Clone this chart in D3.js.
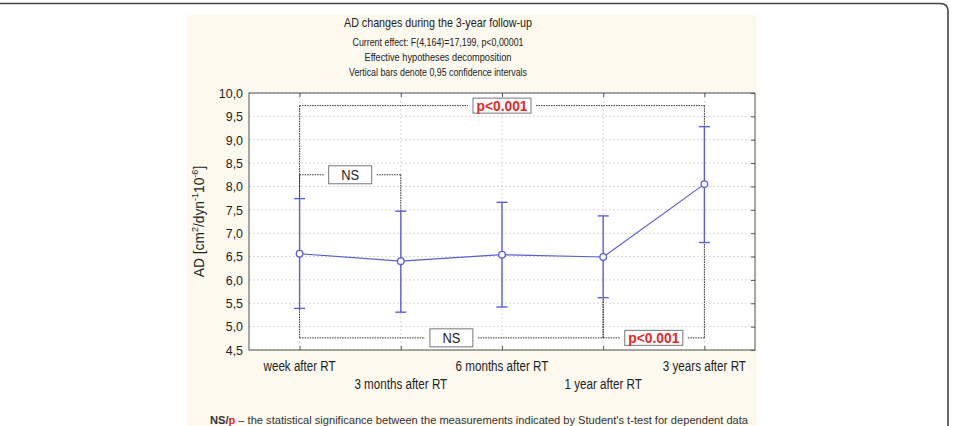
<!DOCTYPE html>
<html>
<head>
<meta charset="utf-8">
<script src="https://cdn.jsdelivr.net/npm/d3@7"></script>
<style>
  body { margin: 0; background: #fff; }
  text { font-family: "Liberation Sans", Arial, sans-serif; }
</style>
</head>
<body>
<svg id="chart" width="953" height="426"></svg>
<script>
// данные
const categories = ["week after RT", "3 months after RT", "6 months after RT", "1 year after RT", "3 years after RT"];
const means = [6.56, 6.40, 6.54, 6.49, 8.05];
const lower = [5.39, 5.31, 5.42, 5.62, 6.80];
const upper = [7.74, 7.47, 7.66, 7.37, 9.28];
const yTicks = [4.5, 5.0, 5.5, 6.0, 6.5, 7.0, 7.5, 8.0, 8.5, 9.0, 9.5, 10.0];

// скобки значимости: от, до, уровень, подпись
const bracketFrom = [0, 0, 0, 3];
const bracketTo = [4, 1, 3, 4];
const bracketLevel = [9.73, 8.25, 4.76, 4.76];
const bracketLabel = ["p<0.001", "NS", "NS", "p<0.001"];

const titleLines = [
    "AD changes during the 3-year follow-up",
    "Current effect: F(4,164)=17,199, p<0,00001",
    "Effective hypotheses decomposition",
    "Vertical bars denote 0,95 confidence intervals"
];

const svg = d3.select('#chart');
const blue = '#5c5cdc';

// рамка страницы
svg.append('path')
    .attr('d', 'M0,3.5 H940 Q948,3.5 948,11 V426')
    .attr('fill', 'none')
    .attr('stroke', '#444')
    .attr('stroke-width', 1.6);

// бежевый фон окна графика
svg.append('rect')
    .attr('x', 187).attr('y', 15)
    .attr('width', 570).attr('height', 411)
    .attr('fill', '#fdf9ee');

const margin = { left: 249, right: 755, top: 93, bottom: 350 };

const x = d3.scalePoint()
    .domain(categories)
    .range([margin.left, margin.right])
    .padding(0.5);

const y = d3.scaleLinear()
    .domain([4.5, 10])
    .range([margin.bottom, margin.top]);

// сжатие текста под узкий шрифт
function squeeze(sel, f) {
    sel.each(function () {
        const w = this.getComputedTextLength();
        d3.select(this).attr('textLength', w * f).attr('lengthAdjust', 'spacingAndGlyphs');
    });
}

// заголовки
const titleY = [27, 46, 61, 76];
const titleSize = [13.5, 11, 11, 11];
const titleWidth = [188, 171, 147, 178];
titleLines.forEach((t, i) => {
    svg.append('text')
        .attr('x', 438).attr('y', titleY[i])
        .attr('text-anchor', 'middle')
        .attr('font-size', titleSize[i])
        .attr('fill', '#222')
        .attr('textLength', titleWidth[i])
        .attr('lengthAdjust', 'spacingAndGlyphs')
        .text(t);
});

// белая область графика
svg.append('rect')
    .attr('x', margin.left).attr('y', margin.top)
    .attr('width', margin.right - margin.left)
    .attr('height', margin.bottom - margin.top)
    .attr('fill', '#fff');

// сетка
svg.append('g')
    .selectAll('line')
    .data(yTicks)
    .enter().append('line')
    .attr('x1', margin.left).attr('x2', margin.right)
    .attr('y1', d => y(d)).attr('y2', d => y(d))
    .attr('stroke', '#d8d8d8')
    .attr('stroke-dasharray', '2,2');

svg.append('g')
    .selectAll('line')
    .data(categories)
    .enter().append('line')
    .attr('x1', d => x(d)).attr('x2', d => x(d))
    .attr('y1', margin.top).attr('y2', margin.bottom)
    .attr('stroke', '#d8d8d8')
    .attr('stroke-dasharray', '2,2');

// оси
const yAxis = svg.append('g')
    .attr('transform', `translate(${margin.left},0)`)
    .call(d3.axisLeft(y).tickValues(yTicks).tickSize(0).tickPadding(6)
        .tickFormat(d => d3.format('.1f')(d).replace('.', ',')));
yAxis.select('.domain').remove();
yAxis.selectAll('text').attr('font-size', 13.5).attr('fill', '#222')
    .call(squeeze, 0.92);

svg.append('g')
    .attr('transform', `translate(${margin.right},0)`)
    .call(d3.axisLeft(y).tickValues(yTicks).tickSize(4).tickFormat(''))
    .call(g => g.select('.domain').remove())
    .selectAll('line').attr('stroke', '#555');

svg.append('g')
    .attr('transform', `translate(0,${margin.top})`)
    .call(d3.axisBottom(x).tickSize(4).tickFormat(''))
    .call(g => g.select('.domain').remove())
    .selectAll('line').attr('stroke', '#555');

svg.append('g')
    .attr('transform', `translate(0,${margin.bottom})`)
    .call(d3.axisTop(x).tickSize(4).tickFormat(''))
    .call(g => g.select('.domain').remove())
    .selectAll('line').attr('stroke', '#555');

svg.append('rect')
    .attr('x', margin.left).attr('y', margin.top)
    .attr('width', margin.right - margin.left)
    .attr('height', margin.bottom - margin.top)
    .attr('fill', 'none')
    .attr('stroke', '#555');

// подписи категорий в два ряда
svg.append('g')
    .selectAll('text')
    .data(categories)
    .enter().append('text')
    .attr('x', d => x(d))
    .attr('y', (d, i) => i % 2 === 0 ? 371 : 389)
    .attr('text-anchor', 'middle')
    .attr('font-size', 14)
    .attr('fill', '#222')
    .text(d => d)
    .call(squeeze, 0.83);

// подпись оси Y
const yl = svg.append('text')
    .attr('transform', `translate(204,${(margin.top + margin.bottom) / 2}) rotate(-90)`)
    .attr('text-anchor', 'middle')
    .attr('font-size', 14.5)
    .attr('fill', '#222');
yl.append('tspan').text('AD [cm');
yl.append('tspan').attr('font-size', 9.5).attr('dy', -6).text('2');
yl.append('tspan').attr('dy', 6).text('/dyn');
yl.append('tspan').attr('font-size', 9.5).attr('dy', -6).text('-1');
yl.append('tspan').attr('dy', 6).text('10');
yl.append('tspan').attr('font-size', 9.5).attr('dy', -6).text('-6');
yl.append('tspan').attr('dy', 6).text(']');
yl.call(squeeze, 0.95);

// скобки значимости
const brackets = svg.append('g');
bracketLabel.forEach((lab, i) => {
    const a = bracketFrom[i], b = bracketTo[i];
    const xa = x(categories[a]), xb = x(categories[b]);
    const ly = y(bracketLevel[i]);
    const top = bracketLevel[i] > means[a];
    const isP = lab !== 'NS';
    const mid = (xa + xb) / 2;
    const bw = isP ? 58 : 43;
    const bh = isP ? 15 : 18;

    const seg = (x1, y1, x2, y2) => brackets.append('line')
        .attr('x1', x1).attr('y1', y1).attr('x2', x2).attr('y2', y2)
        .attr('stroke', '#333')
        .attr('stroke-dasharray', '1.5,1');

    seg(xa, ly, mid - bw / 2 - 5, ly);
    seg(mid + bw / 2 + 5, ly, xb, ly);
    [a, b].forEach(k => {
        const xk = x(categories[k]);
        const end = top ? y(upper[k]) : y(lower[k]);
        seg(xk, ly, xk, end);
    });

    brackets.append('rect')
        .attr('x', mid - bw / 2).attr('y', ly - bh / 2)
        .attr('width', bw).attr('height', bh)
        .attr('fill', '#fff')
        .attr('stroke', '#777');
    brackets.append('text')
        .attr('x', mid).attr('y', ly + (isP ? 5.5 : 5))
        .attr('text-anchor', 'middle')
        .attr('font-size', isP ? 15 : 14)
        .attr('font-weight', isP ? 'bold' : 'normal')
        .attr('fill', isP ? '#e8261f' : '#222')
        .text(lab)
        .call(squeeze, 0.92);
});

// доверительные интервалы
const bars = svg.append('g')
    .attr('stroke', blue)
    .attr('stroke-width', 1.4);
categories.forEach((c, i) => {
    bars.append('line')
        .attr('x1', x(c)).attr('x2', x(c))
        .attr('y1', y(lower[i])).attr('y2', y(upper[i]));
    [lower[i], upper[i]].forEach(v => {
        bars.append('line')
            .attr('x1', x(c) - 5.5).attr('x2', x(c) + 5.5)
            .attr('y1', y(v)).attr('y2', y(v));
    });
});

// линия средних
svg.append('path')
    .datum(means)
    .attr('fill', 'none')
    .attr('stroke', blue)
    .attr('stroke-width', 1.2)
    .attr('d', d3.line().x((d, i) => x(categories[i])).y(d => y(d)));

svg.append('g')
    .selectAll('circle')
    .data(means)
    .enter().append('circle')
    .attr('cx', (d, i) => x(categories[i]))
    .attr('cy', d => y(d))
    .attr('r', 3.3)
    .attr('fill', '#fff')
    .attr('stroke', blue)
    .attr('stroke-width', 1.3);

// сноска
const foot = svg.append('text')
    .attr('x', 210).attr('y', 424)
    .attr('font-size', 11.5)
    .attr('fill', '#333');
foot.append('tspan').attr('font-weight', 'bold').text('NS/');
foot.append('tspan').attr('font-weight', 'bold').attr('fill', '#e8261f').text('p');
foot.append('tspan').text(" \u2013 the statistical significance between the measurements indicated by Student's t-test for dependent data");
foot.attr('textLength', 538).attr('lengthAdjust', 'spacingAndGlyphs');
</script>
</body>
</html>
